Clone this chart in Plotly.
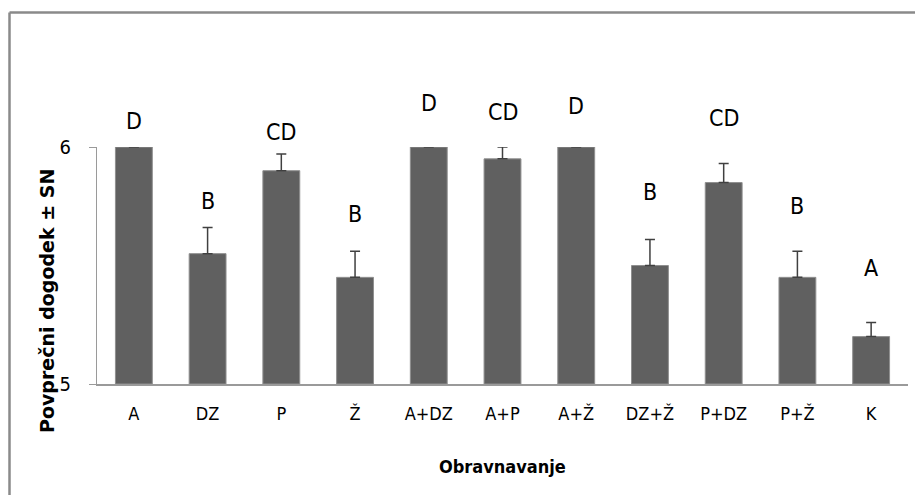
import plotly.graph_objects as go

categories = ["A", "DZ", "P", "Ž", "A+DZ", "A+P", "A+Ž", "DZ+Ž", "P+DZ", "P+Ž", "K"]
means = [6.00, 5.55, 5.90, 5.45, 6.00, 5.95, 6.00, 5.50, 5.85, 5.45, 5.20]
errors = [0.00, 0.11, 0.07, 0.11, 0.00, 0.05, 0.00, 0.11, 0.08, 0.11, 0.06]
letters = ["D", "B", "CD", "B", "D", "CD", "D", "B", "CD", "B", "A"]
letter_y = [6.110, 5.772, 6.065, 5.717, 6.184, 6.146, 6.173, 5.811, 6.122, 5.751, 5.489]
y_min, y_max = 5, 6
y_ticks = [5, 6]

NARROW = "Liberation Sans Narrow, DejaVu Sans Condensed, Arial Narrow, sans-serif"

OFF = 8  # page body margin of the HTML document
W, H = 923 - OFF, 495 - OFF
L, T = 97 - OFF, 147 - OFF
R = 15
B = 495 - 384
pw, ph = W - L - R, H - T - B


def px_x(p):
    return (p - OFF - L) / pw


def px_y(p):
    return (H - B - (p - OFF)) / ph


fig = go.Figure()
fig.add_trace(go.Bar(
    x=categories, y=[m - y_min for m in means], base=y_min,
    marker=dict(color="#606060", line=dict(color="#8f8f8f", width=1)),
    width=0.5,
    error_y=dict(type="data", array=errors, visible=True, symmetric=False,
                 arrayminus=[0] * len(errors), color="#404040", thickness=1.5, width=5),
    hoverinfo="skip",
))

annotations = []
for c, t, yy in zip(categories, letters, letter_y):
    annotations.append(dict(x=c, y=(yy - y_min) / (y_max - y_min), xref="x", yref="paper",
                            text=t, showarrow=False,
                            font=dict(family=NARROW, size=23, color="#000000"),
                            xanchor="center", yanchor="middle"))

annotations.append(dict(x=px_x(47), y=px_y(301), xref="paper", yref="paper",
                        text="<b>Povprečni dogodek ± SN</b>", textangle=-90, showarrow=False,
                        font=dict(family="DejaVu Sans, sans-serif", size=19, color="#000000"),
                        xanchor="center", yanchor="middle"))
annotations.append(dict(x=px_x(502), y=px_y(466), xref="paper", yref="paper",
                        text="<b>Obravnavanje</b>", showarrow=False,
                        font=dict(family=NARROW, size=18, color="#000000"),
                        xanchor="center", yanchor="middle"))

frame_color = "#8a8a8a"
frame = [
    dict(type="line", xref="paper", yref="paper", x0=px_x(9.5), x1=px_x(922),
         y0=px_y(12.5), y1=px_y(12.5), line=dict(color=frame_color, width=2.5)),
    dict(type="line", xref="paper", yref="paper", x0=px_x(9.5), x1=px_x(9.5),
         y0=px_y(12.5), y1=px_y(500), line=dict(color=frame_color, width=2.5)),
]

fig.update_layout(
    template="none",
    width=W, height=H,
    margin=dict(l=L, r=R, t=T, b=B, pad=0, autoexpand=False),
    paper_bgcolor="white", plot_bgcolor="white",
    showlegend=False,
    annotations=annotations,
    shapes=frame,
)
fig.update_xaxes(
    type="category", automargin=False, showline=True, linecolor="#9a9a9a", linewidth=1.5,
    showgrid=False, zeroline=False, ticks="", ticklabelstandoff=13,
    tickfont=dict(family=NARROW, size=18, color="#000000"),
)
fig.update_yaxes(
    automargin=False, range=[y_min, y_max], tickvals=y_ticks, ticktext=[str(v) for v in y_ticks],
    showline=True, linecolor="#9a9a9a", linewidth=1,
    showgrid=False, zeroline=False, ticks="outside", ticklen=7, tickcolor="#9a9a9a",
    ticklabelstandoff=14,
    tickfont=dict(family=NARROW, size=20, color="#000000"),
)

fig.write_html("out.html")
